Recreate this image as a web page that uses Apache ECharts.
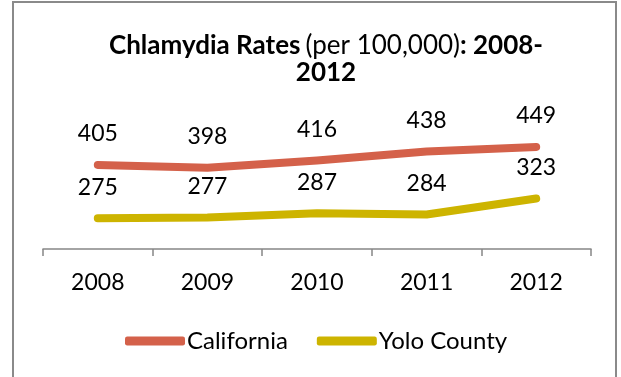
<!DOCTYPE html>
<html>
<head>
<meta charset="utf-8">
<script src="https://cdn.jsdelivr.net/npm/echarts@6/dist/echarts.min.js"></script>
<style>
  html, body { margin: 0; padding: 0; background: #fff; }
  #chart { width: 621px; height: 377px; }
</style>
</head>
<body>
<div id="chart"></div>
<script>
// Chlamydia rates per 100,000, 2008–2012
const years = ['2008', '2009', '2010', '2011', '2012'];
const california = [405, 398, 416, 438, 449];
const yoloCounty = [275, 277, 287, 284, 323];

const FONT = 'Lato, "Open Sans", sans-serif';

const chart = echarts.init(document.getElementById('chart'), null, { renderer: 'canvas' });

const labelStyle = {
  show: true,
  position: 'top',
  distance: 19,
  fontFamily: FONT,
  fontSize: 23,
  color: '#000'
};

chart.setOption({
  animation: false,
  backgroundColor: '#fff',
  graphic: [{
    type: 'rect',
    shape: { x: 13, y: 2, width: 603, height: 420 },
    style: { fill: 'none', stroke: '#8a8a8a', lineWidth: 2 },
    silent: true
  }],
  title: {
    text: '{b|Chlamydia Rates} {n|(per 100,000)}{b|: 2008-}\n{b|2012}',
    left: 326,
    textAlign: 'center',
    top: 32,
    padding: 0,
    textStyle: {
      rich: {
        b: { fontFamily: FONT, fontSize: 26, fontWeight: 'bold', color: '#000', lineHeight: 27 },
        n: { fontFamily: FONT, fontSize: 26, fontWeight: 'normal', color: '#000', lineHeight: 27 }
      }
    }
  },
  legend: {
    left: 120,
    top: 324,
    itemWidth: 60,
    itemHeight: 9,
    itemGap: 29,
    icon: 'roundRect',
    textStyle: { fontFamily: FONT, fontSize: 24, color: '#000', padding: [0, 0, 0, -3] },
    data: ['California', 'Yolo County']
  },
  grid: { left: 43, right: 30, top: 126, bottom: 128 },
  xAxis: {
    type: 'category',
    data: years,
    boundaryGap: true,
    axisLine: { lineStyle: { color: '#868686', width: 1.5 } },
    axisTick: { show: true, interval: 0, length: 7, lineStyle: { color: '#868686', width: 1.5 } },
    axisLabel: { fontFamily: FONT, fontSize: 23, color: '#000', margin: 22 }
  },
  yAxis: {
    type: 'value',
    min: 200,
    max: 500,
    show: false,
    splitLine: { show: false }
  },
  series: [
    {
      name: 'California',
      type: 'line',
      data: california,
      symbol: 'circle',
      symbolSize: 1,
      color: '#D4614A',
      lineStyle: { width: 8, cap: 'round', join: 'round' },
      label: labelStyle
    },
    {
      name: 'Yolo County',
      type: 'line',
      data: yoloCounty,
      symbol: 'circle',
      symbolSize: 1,
      color: '#CDB400',
      lineStyle: { width: 8, cap: 'round', join: 'round' },
      label: labelStyle
    }
  ]
});
</script>
</body>
</html>
